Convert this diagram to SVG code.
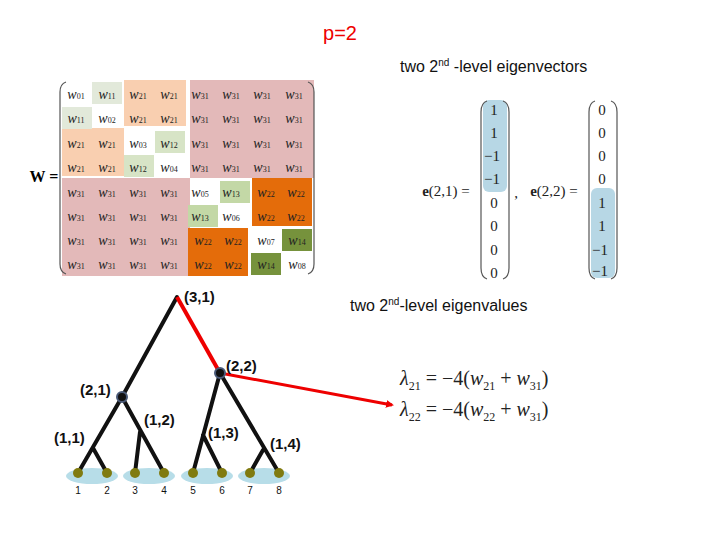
<svg xmlns="http://www.w3.org/2000/svg" width="720" height="540" viewBox="0 0 720 540">
<style>
.t{font-family:"Liberation Serif",serif;font-size:14px;fill:#222;text-anchor:middle;font-style:italic}
.t tspan{font-style:normal;font-size:8px}
.s{font-family:"Liberation Sans",sans-serif;fill:#111}
.e{font-family:"Liberation Serif",serif;font-size:15px;fill:#222;text-anchor:middle}
.br{fill:none;stroke:#555;stroke-width:1.2}
.tr{stroke:#111;stroke-width:4;fill:none;stroke-linecap:round}
.leaf{fill:#807b10}
.pair{fill:#b7dde8}
.lb{font-family:"Liberation Sans",sans-serif;font-size:15px;font-weight:bold;fill:#111}
</style>
<defs><marker id="ah" markerWidth="8" markerHeight="8" refX="6" refY="4" orient="auto" markerUnits="userSpaceOnUse"><path d="M0,0 L8,4 L0,8 Z" fill="#e00"/></marker></defs>
<rect width="720" height="540" fill="#fff"/>
<text x="340" y="40" font-family="Liberation Sans,sans-serif" font-size="20" style="fill:#e00" text-anchor="middle">p=2</text>
<text x="400" y="72" class="s" font-size="16">two 2<tspan font-size="10" dy="-6">nd</tspan><tspan dy="6"> -level eigenvectors</tspan></text>
<text x="350" y="311" class="s" font-size="16">two 2<tspan font-size="10" dy="-6">nd</tspan><tspan dy="6">-level eigenvalues</tspan></text>
<g id="matrix">
<rect x="190" y="80" width="124" height="98" fill="#e3b9b9"/>
<rect x="62" y="178" width="128" height="98" fill="#e3b9b9"/>
<rect x="124" y="80" width="62" height="46" fill="#f9cfb0"/>
<rect x="62" y="128" width="62" height="48" fill="#f9cfb0"/>
<rect x="92" y="82" width="30" height="22" fill="#e2e9da"/>
<rect x="62" y="107" width="30" height="22" fill="#e2e9da"/>
<rect x="155" y="131" width="30" height="22" fill="#d7e4c6"/>
<rect x="124" y="155" width="30" height="22" fill="#d7e4c6"/>
<rect x="220" y="181" width="30" height="22" fill="#c3d8a6"/>
<rect x="188" y="205" width="30" height="22" fill="#c3d8a6"/>
<rect x="252" y="178" width="60" height="48" fill="#e46c0a"/>
<rect x="188" y="228" width="60" height="48" fill="#e46c0a"/>
<rect x="282" y="229" width="30" height="22" fill="#76923c"/>
<rect x="251" y="253" width="30" height="22" fill="#76923c"/>
<path class="br" d="M66,82 Q60,84 60,92 L60,264 Q60,272 66,274"/>
<path class="br" d="M308,82 Q314,84 314,92 L314,264 Q314,272 308,274"/>
<text x="44" y="182" font-family="Liberation Serif,serif" font-size="16" font-weight="bold" text-anchor="middle">W =</text>
<g class="t">
<text x="76" y="99">w<tspan>01</tspan></text><text x="107" y="99">w<tspan>11</tspan></text><text x="138" y="99">w<tspan>21</tspan></text><text x="169" y="99">w<tspan>21</tspan></text><text x="200" y="99">w<tspan>31</tspan></text><text x="231" y="99">w<tspan>31</tspan></text><text x="262" y="99">w<tspan>31</tspan></text><text x="294" y="99">w<tspan>31</tspan></text>
<text x="76" y="123">w<tspan>11</tspan></text><text x="107" y="123">w<tspan>02</tspan></text><text x="138" y="123">w<tspan>21</tspan></text><text x="169" y="123">w<tspan>21</tspan></text><text x="200" y="123">w<tspan>31</tspan></text><text x="231" y="123">w<tspan>31</tspan></text><text x="262" y="123">w<tspan>31</tspan></text><text x="294" y="123">w<tspan>31</tspan></text>
<text x="76" y="148">w<tspan>21</tspan></text><text x="107" y="148">w<tspan>21</tspan></text><text x="138" y="148">w<tspan>03</tspan></text><text x="169" y="148">w<tspan>12</tspan></text><text x="200" y="148">w<tspan>31</tspan></text><text x="231" y="148">w<tspan>31</tspan></text><text x="262" y="148">w<tspan>31</tspan></text><text x="294" y="148">w<tspan>31</tspan></text>
<text x="76" y="172">w<tspan>21</tspan></text><text x="107" y="172">w<tspan>21</tspan></text><text x="138" y="172">w<tspan>12</tspan></text><text x="169" y="172">w<tspan>04</tspan></text><text x="200" y="172">w<tspan>31</tspan></text><text x="231" y="172">w<tspan>31</tspan></text><text x="262" y="172">w<tspan>31</tspan></text><text x="294" y="172">w<tspan>31</tspan></text>
<text x="76" y="197">w<tspan>31</tspan></text><text x="107" y="197">w<tspan>31</tspan></text><text x="138" y="197">w<tspan>31</tspan></text><text x="169" y="197">w<tspan>31</tspan></text><text x="200" y="197">w<tspan>05</tspan></text><text x="231" y="197">w<tspan>13</tspan></text><text x="266" y="197">w<tspan>22</tspan></text><text x="296" y="197">w<tspan>22</tspan></text>
<text x="76" y="221">w<tspan>31</tspan></text><text x="107" y="221">w<tspan>31</tspan></text><text x="138" y="221">w<tspan>31</tspan></text><text x="169" y="221">w<tspan>31</tspan></text><text x="200" y="221">w<tspan>13</tspan></text><text x="231" y="221">w<tspan>06</tspan></text><text x="266" y="221">w<tspan>22</tspan></text><text x="296" y="221">w<tspan>22</tspan></text>
<text x="76" y="245">w<tspan>31</tspan></text><text x="107" y="245">w<tspan>31</tspan></text><text x="138" y="245">w<tspan>31</tspan></text><text x="169" y="245">w<tspan>31</tspan></text><text x="203" y="245">w<tspan>22</tspan></text><text x="233" y="245">w<tspan>22</tspan></text><text x="266" y="245">w<tspan>07</tspan></text><text x="297" y="245">w<tspan>14</tspan></text>
<text x="76" y="269">w<tspan>31</tspan></text><text x="107" y="269">w<tspan>31</tspan></text><text x="138" y="269">w<tspan>31</tspan></text><text x="169" y="269">w<tspan>31</tspan></text><text x="203" y="269">w<tspan>22</tspan></text><text x="233" y="269">w<tspan>22</tspan></text><text x="266" y="269">w<tspan>14</tspan></text><text x="297" y="269">w<tspan>08</tspan></text>
</g>
</g>
<g id="eigenvectors">
<rect x="483" y="100" width="24" height="92" rx="6" fill="#b7d7e5"/>
<rect x="591" y="188" width="24" height="90" rx="6" fill="#b7d7e5"/>
<path class="br" d="M487,101 Q481,103 481,112 L481,268 Q481,277 487,279"/><path class="br" d="M503,101 Q509,103 509,112 L509,268 Q509,277 503,279"/>
<path class="br" d="M595,101 Q589,103 589,112 L589,268 Q589,277 595,279"/><path class="br" d="M611,101 Q617,103 617,112 L617,268 Q617,277 611,279"/>
<text x="446" y="196" class="e" font-size="17"><tspan font-weight="bold">e</tspan>(2,1) =</text>
<text x="516" y="198" class="e">,</text>
<text x="554" y="196" class="e" font-size="17"><tspan font-weight="bold">e</tspan>(2,2) =</text>
<g class="e">
<text x="494" y="115">1</text><text x="494" y="138">1</text><text x="492" y="161">−1</text><text x="492" y="184">−1</text><text x="494" y="208">0</text><text x="494" y="231">0</text><text x="494" y="255">0</text><text x="494" y="278">0</text>
<text x="602" y="115">0</text><text x="602" y="138">0</text><text x="602" y="161">0</text><text x="602" y="184">0</text><text x="602" y="208">1</text><text x="602" y="231">1</text><text x="600" y="255">−1</text><text x="600" y="276">−1</text>
</g>
</g>
<g id="eigenvalues" font-family="Liberation Serif,serif" font-size="20" fill="#222">
<text x="400" y="385" font-style="italic">λ<tspan font-size="12" font-style="normal" dy="5">21</tspan><tspan font-style="normal" dy="-5"> = −4(</tspan>w<tspan font-size="12" font-style="normal" dy="5">21</tspan><tspan font-style="normal" dy="-5"> + </tspan>w<tspan font-size="12" font-style="normal" dy="5">31</tspan><tspan font-style="normal" dy="-5">)</tspan></text>
<text x="400" y="416" font-style="italic">λ<tspan font-size="12" font-style="normal" dy="5">22</tspan><tspan font-style="normal" dy="-5"> = −4(</tspan>w<tspan font-size="12" font-style="normal" dy="5">22</tspan><tspan font-style="normal" dy="-5"> + </tspan>w<tspan font-size="12" font-style="normal" dy="5">31</tspan><tspan font-style="normal" dy="-5">)</tspan></text>
</g>
<g id="pairs">
<ellipse cx="92" cy="476" rx="26" ry="8" class="pair"/><ellipse cx="149" cy="476" rx="26" ry="8" class="pair"/><ellipse cx="207" cy="476" rx="26" ry="8" class="pair"/><ellipse cx="264" cy="476" rx="26" ry="8" class="pair"/>
</g>
<g id="connectors">
<path class="tr" d="M177,297 L122,397 L78,473 M93,448 L107,473 M122,397 L164,473 M140,432 L135,473 M220,373 L193,473 M203,435 L222,473 M220,373 L279,473 M263,450 L250,473"/>
<path d="M177,297 L220,373" stroke="#e00" stroke-width="4" fill="none"/>
<path d="M220,373 L392,405" stroke="#e00" stroke-width="3" fill="none" marker-end="url(#ah)"/>
</g>
<g id="nodes">
<circle cx="122" cy="397" r="5" fill="#111" stroke="#4a5a78" stroke-width="2"/>
<circle cx="220" cy="373" r="5" fill="#111" stroke="#4a5a78" stroke-width="2"/>
<g class="leaf"><circle cx="78" cy="473" r="5"/><circle cx="107" cy="473" r="5"/><circle cx="135" cy="473" r="5"/><circle cx="164" cy="473" r="5"/><circle cx="193" cy="473" r="5"/><circle cx="222" cy="473" r="5"/><circle cx="250" cy="473" r="5"/><circle cx="279" cy="473" r="5"/></g>
</g>
<g class="lb">
<text x="184" y="302">(3,1)</text><text x="226" y="371">(2,2)</text><text x="80" y="395">(2,1)</text><text x="144" y="425">(1,2)</text><text x="54" y="443">(1,1)</text><text x="208" y="438">(1,3)</text><text x="270" y="449">(1,4)</text>
</g>
<g font-family="Liberation Sans,sans-serif" font-size="10" fill="#111" text-anchor="middle">
<text x="78" y="494">1</text><text x="107" y="494">2</text><text x="135" y="494">3</text><text x="164" y="494">4</text><text x="193" y="494">5</text><text x="222" y="494">6</text><text x="250" y="494">7</text><text x="279" y="494">8</text>
</g>
</svg>
